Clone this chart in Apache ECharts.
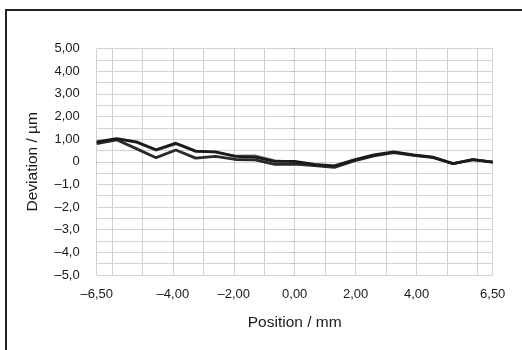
<!DOCTYPE html>
<html>
<head>
<meta charset="utf-8">
<script src="https://cdn.jsdelivr.net/npm/echarts@6/dist/echarts.min.js"></script>
<style>
  html, body { margin: 0; padding: 0; background: #fff; }
  #main { width: 522px; height: 350px; }
</style>
</head>
<body>
<div id="main"></div>
<script>
// positions along the part, mm
var positions = [-6.5, -5.85, -5.2, -4.55, -3.9, -3.25, -2.6, -1.95, -1.3, -0.65, 0,
    0.65, 1.3, 1.95, 2.6, 3.25, 3.9, 4.55, 5.2, 5.85, 6.5];
// deviation, µm
var runA = [0.88, 1.02, 0.88, 0.53, 0.82, 0.47, 0.44, 0.24, 0.20, 0.02, 0.02,
    -0.12, -0.18, 0.08, 0.30, 0.44, 0.30, 0.20, -0.08, 0.09, -0.02];
var runB = [0.80, 0.97, 0.58, 0.18, 0.52, 0.16, 0.24, 0.10, 0.08, -0.12, -0.10,
    -0.17, -0.25, 0.04, 0.26, 0.40, 0.28, 0.18, -0.08, 0.09, -0.02];
var runC = [0.85, 1.00, 0.85, 0.50, 0.78, 0.45, 0.42, 0.26, 0.27, 0.05, 0.00,
    -0.15, -0.22, 0.06, 0.28, 0.42, 0.29, 0.19, -0.08, 0.09, -0.02];
var xLabels = [-6.5, -4, -2, 0, 2, 4, 6.5];
var xTicks = [-6.5, -6, -5, -4, -3, -2, -1, 0, 1, 2, 3, 4, 5, 6, 6.5];

var myChart = echarts.init(document.getElementById('main'));
var font = 'Liberation Sans';

function pairs(ys) {
    return ys.map(function(v, i) { return [positions[i], v]; });
}
function comma(s) {
    return s.replace('.', ',').replace('-', '\u2013');
}

var option = {
    backgroundColor: '#fff',
    animation: false,
    textStyle: { fontFamily: font },
    graphic: [{
        type: 'rect',
        shape: { x: 6, y: 10, width: 600, height: 400 },
        style: { fill: 'none', stroke: '#222', lineWidth: 2 },
        silent: true
    }],
    grid: { left: 96.7, right: 29.3, top: 48.5, bottom: 75 },
    xAxis: {
        type: 'value',
        min: -6.5,
        max: 6.5,
        name: 'Position / mm',
        nameLocation: 'middle',
        nameGap: 40,
        nameTextStyle: { fontSize: 15.5, color: '#1a1a1a', fontFamily: font },
        axisLine: { show: false },
        axisTick: { show: true, length: 3, customValues: xTicks, lineStyle: { color: '#bbb' } },
        axisLabel: {
            customValues: xLabels,
            margin: 13,
            fontSize: 13,
            color: '#1a1a1a',
            formatter: function(v) { return comma(v.toFixed(2)); }
        },
        splitLine: { show: true, lineStyle: { color: '#d2d2d2', width: 1 } }
    },
    yAxis: {
        type: 'value',
        min: -5,
        max: 5,
        interval: 0.5,
        name: 'Deviation / \u00b5m',
        nameLocation: 'middle',
        nameGap: 56,
        nameTextStyle: { fontSize: 15.5, color: '#1a1a1a', fontFamily: font },
        axisLine: { show: false },
        axisTick: { show: true, length: 3, lineStyle: { color: '#bbb' } },
        axisLabel: {
            margin: 17,
            fontSize: 13,
            color: '#1a1a1a',
            formatter: function(v) {
                if (Math.abs(v - Math.round(v)) > 1e-6) return '';
                if (v > 0) return comma(v.toFixed(2));
                if (v === 0) return '0';
                return comma(v.toFixed(1));
            }
        },
        splitLine: { show: true, lineStyle: { color: '#d2d2d2', width: 1 } }
    },
    series: [
        { name: 'C', type: 'line', data: pairs(runC), symbol: 'none',
          lineStyle: { color: '#666', width: 2.2 } },
        { name: 'B', type: 'line', data: pairs(runB), symbol: 'none',
          lineStyle: { color: '#2a2a2a', width: 2.8 } },
        { name: 'A', type: 'line', data: pairs(runA), symbol: 'none',
          lineStyle: { color: '#1a1a1a', width: 2.8 } }
    ]
};

myChart.setOption(option);
</script>
</body>
</html>
